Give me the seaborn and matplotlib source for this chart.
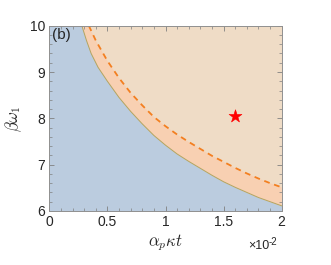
import numpy as np
import pandas as pd
import seaborn as sns
import matplotlib
matplotlib.use("Agg")
import matplotlib.pyplot as plt
from matplotlib.ticker import MultipleLocator

# boundary curve (solid), x in units of 1e-2
bound_x = [0.28, 0.32, 0.36, 0.42, 0.50, 0.60, 0.70, 0.80, 0.90, 1.00,
           1.10, 1.20, 1.30, 1.40, 1.50, 1.60, 1.70, 1.80, 1.90, 2.00]
bound_y = [10.0, 9.68, 9.40, 9.10, 8.80, 8.45, 8.15, 7.88, 7.63, 7.42,
           7.23, 7.07, 6.92, 6.77, 6.63, 6.51, 6.40, 6.29, 6.20, 6.11]

# dashed curve
dash_x = [0.34, 0.40, 0.50, 0.60, 0.70, 0.80, 0.90, 1.00, 1.10, 1.20,
          1.30, 1.40, 1.50, 1.60, 1.70, 1.80, 1.90, 2.00]
dash_y = [10.0, 9.68, 9.24, 8.87, 8.55, 8.28, 8.03, 7.83, 7.65, 7.49,
          7.34, 7.19, 7.06, 6.93, 6.81, 6.70, 6.60, 6.51]

# marked point
star_x = [1.60]
star_y = [8.06]

x_ticks = [0, 0.5, 1, 1.5, 2]
x_labels = ["0", "0.5", "1", "1.5", "2"]
y_ticks = [6, 7, 8, 9, 10]

sns.set_theme(style="ticks")
plt.rcParams["font.family"] = ["Liberation Sans", "DejaVu Sans"]
plt.rcParams["mathtext.fontset"] = "cm"

fig = plt.figure(figsize=(3.31, 2.65), dpi=100)
ax = fig.add_axes([0.149, 0.204, 0.702, 0.699])

blue = "#BBCCDF"
band = "#F8D0B2"
upper = "#EFDCC6"
ax.set_facecolor(upper)

ax.fill_between(np.r_[0, bound_x], 6, np.r_[10, bound_y], color=blue, lw=0, zorder=1)
ax.fill(np.r_[bound_x, dash_x[::-1]], np.r_[bound_y, dash_y[::-1]],
        color=band, lw=0, zorder=1)

bdf = pd.DataFrame({"x": bound_x, "y": bound_y})
ddf = pd.DataFrame({"x": dash_x, "y": dash_y})
sns.lineplot(data=bdf, x="x", y="y", ax=ax, color="#B3A460", lw=0.7,
             sort=False, zorder=3)
sns.lineplot(data=ddf, x="x", y="y", ax=ax, color="#F37F20", lw=1.3,
             sort=False, dashes=False, zorder=3).lines[-1].set_dashes([3.2, 2.6])

sns.scatterplot(x=star_x, y=star_y, ax=ax, marker="*", s=95, color="#FF0000",
                edgecolor="#FF0000", linewidth=0.4, zorder=4)

ax.set_xlim(0, 2)
ax.set_ylim(6, 10)
ax.set_xticks(x_ticks)
ax.set_xticklabels(x_labels)
ax.set_yticks(y_ticks)
ax.xaxis.set_minor_locator(MultipleLocator(0.1))
ax.yaxis.set_minor_locator(MultipleLocator(0.2))
ax.tick_params(which="both", direction="in", top=True, right=True,
               color="#808080", labelsize=10, labelcolor="#262626", pad=3)
ax.tick_params(which="major", length=3.5, width=0.6)
ax.tick_params(which="minor", length=2, width=0.5)
for s in ax.spines.values():
    s.set_color("#909090")
    s.set_linewidth(0.7)
    s.set_zorder(5)
ax.set_axisbelow(False)

ax.set_xlabel(r"$\alpha_p\kappa t$", fontsize=12, color="#262626", labelpad=2)
ax.set_ylabel(r"$\beta\omega_1$", fontsize=12, color="#262626", labelpad=4)
ax.text(0.012, 0.985, "(b)", transform=ax.transAxes, ha="left", va="top",
        fontsize=11, color="#262626", zorder=6)
# x-axis multiplier, drawn as plain text plus a raised exponent
ax.text(0.945, -0.19, "\u00d710", transform=ax.transAxes, ha="right",
        va="center", fontsize=9, color="#262626")
ax.text(0.945, -0.165, "-2", transform=ax.transAxes, ha="left",
        va="center", fontsize=7, color="#262626")

fig.savefig("out.png", dpi=100)
